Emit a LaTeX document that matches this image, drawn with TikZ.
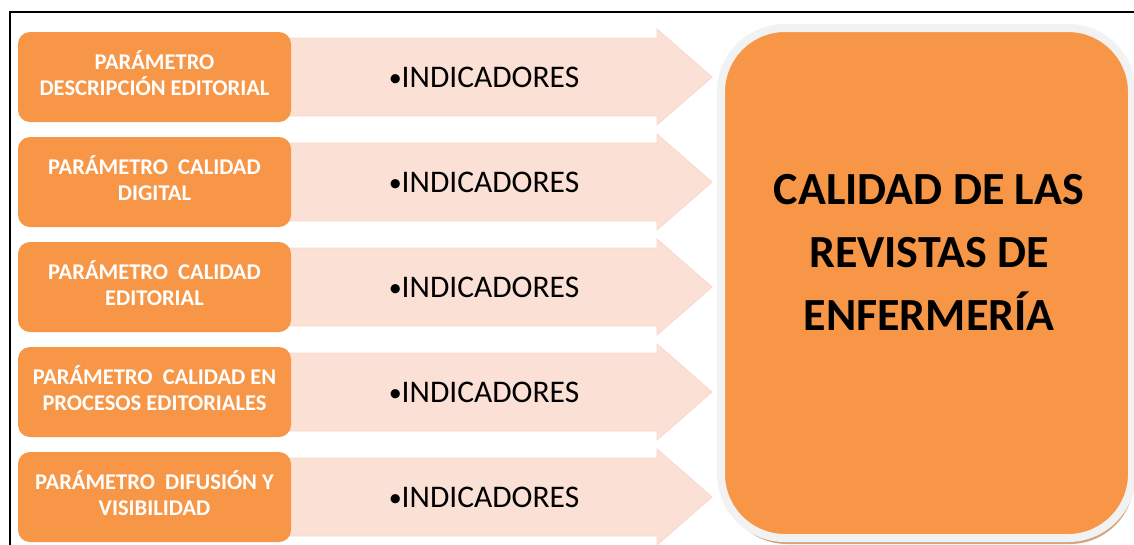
\documentclass[tikz,border=0pt]{standalone}
\usepackage{fontspec}
\setmainfont{Carlito}
\usepackage{tikz}
\usetikzlibrary{shadows}

\definecolor{naranja}{HTML}{F79646}
\definecolor{salmon}{HTML}{FBE0D5}
\definecolor{salmonborde}{HTML}{F9D8CB}
\definecolor{gris}{HTML}{F2F2F2}
\definecolor{sombra}{HTML}{D2A683}

\newcommand{\vineta}{{\fontsize{26}{26}\selectfont\raisebox{1pt}{•}}}

\tikzset{
  parbox/.style={fill=naranja, rounded corners=12pt, minimum width=273pt, minimum height=90pt,
    text=white, align=center, font=\fontsize{22.5}{25.5}\selectfont\bfseries, inner sep=0pt},
  flecha/.style={fill=salmon, draw=salmonborde, line width=0.8pt},
  indtext/.style={font=\fontsize{31.5}{36}\selectfont, text=black, inner sep=0pt},
  bigbox/.style={fill=naranja, draw=gris, line width=8pt, rounded corners=64pt,
    minimum width=411pt, minimum height=510pt,
    drop shadow={shadow xshift=2pt, shadow yshift=-6pt, fill=sombra, opacity=1}},
}

\begin{document}
\begin{tikzpicture}[x=1pt,y=-1pt]

\clip (0,0) rectangle (1134,544);
\fill[white] (0,0) rectangle (1134,544);

% marco
\draw [line width=2pt] (10,545) -- (10,12) -- (1135,12);

% parametros e indicadores
\foreach \i/\txt in {1/{PARÁMETRO\\DESCRIPCIÓN EDITORIAL},
                     2/{PARÁMETRO\ \ CALIDAD\\DIGITAL},
                     3/{PARÁMETRO\ \ CALIDAD\\EDITORIAL},
                     4/{PARÁMETRO\ \ CALIDAD EN\\PROCESOS EDITORIALES},
                     5/{PARÁMETRO\ \ DIFUSIÓN Y\\VISIBILIDAD}}{
  \pgfmathsetmacro{\y}{77+105*(\i-1)}
  \draw [flecha] (285,\y-39) -- (657,\y-39) -- (657,\y-48) -- (712,\y)
    -- (657,\y+48) -- (657,\y+39) -- (285,\y+39) -- cycle;
  \node (par\i) at (154.5,\y) [parbox] {\raisebox{2pt}{\begin{tabular}{@{}c@{}}\txt\end{tabular}}};
  \node (ind\i) at (484,\y) [indtext] {\vineta INDICADORES};
}

% calidad
\node (calidad) at (926.5,283) [bigbox] {};
\node (titulo) at (929,252) [align=center, font=\fontsize{46}{63}\selectfont\bfseries]
  {CALIDAD DE LAS\\REVISTAS DE\\ENFERMERÍA};

\end{tikzpicture}
\end{document}
